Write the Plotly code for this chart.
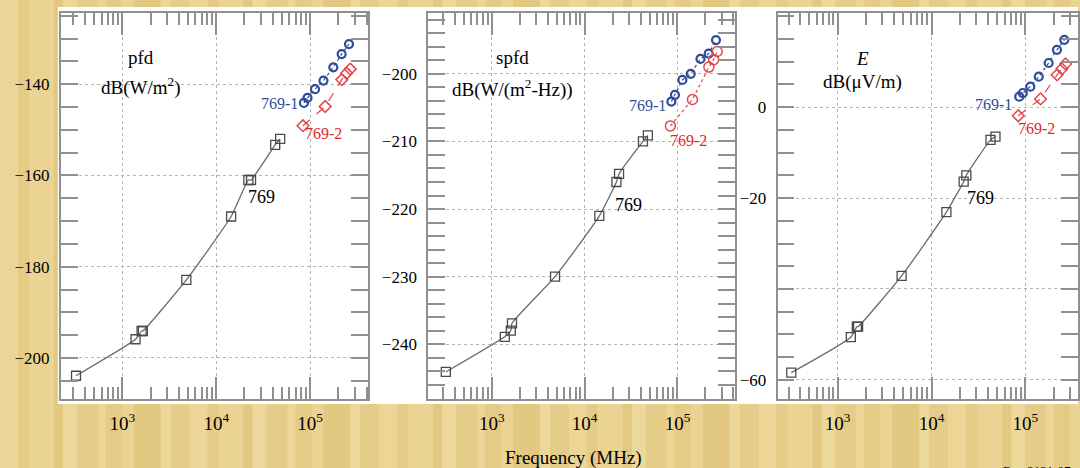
import plotly.graph_objects as go

# ---------------- data ----------------
freq_769 = [320, 1380, 1600, 1650, 4800, 14400, 22000, 23500, 42500, 48000]
freq_769_1 = [86000, 94000, 113000, 139000, 177000, 217000, 260000]
freq_769_2 = [84000, 145000, 218000, 245000, 268000]

pfd_769 = [-203.9, -195.9, -194.1, -194.1, -182.9, -169.0, -161.0, -161.0, -153.3, -152.0]
pfd_769_1 = [-144.1, -143.0, -141.1, -139.2, -136.3, -133.4, -131.2]
pfd_769_2 = [-149.1, -144.9, -139.0, -137.6, -136.7]

spfd_769 = [-244.1, -238.9, -238.0, -236.9, -230.0, -221.0, -216.0, -214.8, -210.0, -209.1]
spfd_769_1 = [-204.1, -203.1, -200.9, -200.0, -197.8, -197.0, -195.0]
spfd_769_2 = [-207.7, -203.8, -199.0, -197.9, -196.7]

e_769 = [-58.4, -50.6, -48.3, -48.3, -37.1, -23.1, -16.4, -15.0, -7.2, -6.5]
e_769_1 = [2.3, 3.1, 4.5, 6.7, 9.7, 12.6, 14.8]
e_769_2 = [-1.9, 1.8, 7.1, 8.4, 9.5]

x_major = [1e3, 1e4, 1e5]
x_major_text = ["10<sup>3</sup>", "10<sup>4</sup>", "10<sup>5</sup>"]
x_minor = [m * d for d in (100, 1000, 10000, 100000) for m in range(2, 10)]

panel_titles = [("pfd", "dB(W/m<sup>2</sup>)"),
                ("spfd", "dB(W/(m<sup>2</sup>-Hz))"),
                ("<i>E</i>", "dB(μV/m)")]

# ---------------- styling / layout ----------------
W, H = 1080, 468
SERIF = "Liberation Serif"
BLUE = "#2f4c9c"
RED = "#e3464a"
FRAME = "#909090"

def px_x(p):
    return p / W

def px_y(p):
    return (H - p) / H

panels = [
    dict(x0=61, x1=369, xr=[2.344, 5.621], yr=[-209.0, -124.4], dt=20, mdt=5),
    dict(x0=429, x1=736, xr=[2.315, 5.616], yr=[-248.1, -191.0], dt=10, mdt=2),
    dict(x0=779, x1=1080, xr=[2.359, 5.561], yr=[-64.2, 20.7], dt=20, mdt=5),
]
y_top, y_bot = 13, 399

series = [
    (pfd_769, pfd_769_1, pfd_769_2),
    (spfd_769, spfd_769_1, spfd_769_2),
    (e_769, e_769_1, e_769_2),
]

fig = go.Figure()

for i, (p, (s0, s1, s2)) in enumerate(zip(panels, series)):
    xa = "x" if i == 0 else f"x{i+1}"
    ya = "y" if i == 0 else f"y{i+1}"
    fig.add_trace(go.Scatter(
        x=freq_769, y=s0, xaxis=xa, yaxis=ya, mode="lines+markers",
        line=dict(color="#6a6a6a", width=1.3, shape="spline", smoothing=0.5),
        marker=dict(symbol="square-open", size=9, color="#4a4a4a", line=dict(width=1.3)),
        showlegend=False))
    fig.add_trace(go.Scatter(
        x=freq_769_1, y=s1, xaxis=xa, yaxis=ya, mode="lines+markers",
        line=dict(color=BLUE, width=1.2, dash="dot"),
        marker=dict(symbol="circle-open", size=8, color=BLUE, line=dict(width=2.2)),
        showlegend=False))
    fig.add_trace(go.Scatter(
        x=freq_769_2, y=s2, xaxis=xa, yaxis=ya, mode="lines+markers",
        line=dict(color=RED, width=1.2, dash="dot" if i == 1 else "dash"),
        marker=dict(symbol="circle-open" if i == 1 else "diamond-open",
                    size=10 if i == 1 else 9, color=RED, line=dict(width=1.5)),
        showlegend=False))

layout = dict(
    width=W, height=H,
    margin=dict(l=0, r=0, t=0, b=0),
    paper_bgcolor="#e9d18f",
    plot_bgcolor="rgba(0,0,0,0)",
    font=dict(family=SERIF, color="black", size=17),
    showlegend=False,
)

for i, p in enumerate(panels):
    xk = "xaxis" if i == 0 else f"xaxis{i+1}"
    yk = "yaxis" if i == 0 else f"yaxis{i+1}"
    ya = "y" if i == 0 else f"y{i+1}"
    xa = "x" if i == 0 else f"x{i+1}"
    layout[xk] = dict(
        type="log", range=p["xr"], domain=[px_x(p["x0"]), px_x(p["x1"])],
        anchor=ya, tickmode="array", tickvals=x_major, ticktext=x_major_text,
        ticks="inside", ticklen=22, tickwidth=2.2, tickcolor=FRAME,
        showline=True, linecolor=FRAME, linewidth=1.8, mirror="allticks",
        showgrid=True, gridcolor="#b4b4b4", griddash="dot", gridwidth=1,
        zeroline=False, tickfont=dict(size=19, family=SERIF),
        ticklabelstandoff=6,
        minor=dict(tickmode="array", tickvals=x_minor, ticks="inside", ticklen=12,
                   tickwidth=2.2, tickcolor=FRAME, showgrid=False),
    )
    yax = dict(
        range=p["yr"], domain=[px_y(y_bot), px_y(y_top)], anchor=xa,
        ticks="inside", ticklen=17, tickwidth=2.2, tickcolor=FRAME,
        showline=True, linecolor=FRAME, linewidth=1.8, mirror="allticks",
        showgrid=True, gridcolor="#b4b4b4", griddash="dot", gridwidth=1,
        zeroline=False, tickfont=dict(size=17, family=SERIF),
        ticklabelstandoff=6,
        minor=dict(tick0=0, dtick=p["mdt"], ticks="inside", ticklen=17,
                   tickwidth=2.2, tickcolor=FRAME, showgrid=False),
    )
    if i == 2:
        yax.update(tickmode="array", tickvals=[-60, -40, -20, 0],
                   ticktext=["−60", " ", "−20", "0"])
    else:
        yax.update(tick0=0, dtick=p["dt"])
    layout[yk] = yax

fig.update_layout(**layout)

# background texture stripes (decoration) + white sheet
stripe_cols = ["#f1dea6", "#dfc27a", "#eed89c", "#dbbb6f", "#f4e4b4", "#e2c682"]
shapes = []
xpos = 0
k = 0
widths = [18, 11, 25, 9, 14, 21, 8, 16, 12, 27, 10, 19]
while xpos < W:
    w = widths[k % len(widths)]
    shapes.append(dict(type="rect", xref="paper", yref="paper",
                       x0=xpos / W, x1=(xpos + w) / W, y0=0, y1=1,
                       fillcolor=stripe_cols[k % len(stripe_cols)], opacity=0.38,
                       line=dict(width=0), layer="below"))
    xpos += w
    k += 1
shapes.append(dict(type="rect", xref="paper", yref="paper",
                   x0=px_x(58), x1=1.0, y0=px_y(404), y1=px_y(7),
                   fillcolor="white", line=dict(width=0), layer="below"))
fig.update_layout(shapes=shapes)

# annotations
ann_pos = [
    dict(t=(3.195, -134.2), u=(3.195, -140.6), n=(4.482, -164.7), b=(4.674, -144.3), r=(5.142, -150.9)),
    dict(t=(3.218, -197.6), u=(3.218, -202.1), n=(4.476, -219.4), b=(4.682, -204.7), r=(5.121, -209.8)),
    dict(t=(3.263, 10.8), u=(3.263, 5.6), n=(4.518, -20.0), b=(4.657, 0.5), r=(5.124, -4.8)),
]
anns = []
for i, (a, (t1, t2)) in enumerate(zip(ann_pos, panel_titles)):
    xa = "x" if i == 0 else f"x{i+1}"
    ya = "y" if i == 0 else f"y{i+1}"
    common = dict(xref=xa, yref=ya, showarrow=False, xanchor="center", yanchor="middle")
    anns.append(dict(text=t1, x=a["t"][0], y=a["t"][1], font=dict(size=19, family=SERIF, color="black"), **common))
    anns.append(dict(text=t2, x=a["u"][0], y=a["u"][1], font=dict(size=19, family=SERIF, color="black"), **common))
    anns.append(dict(text="769", x=a["n"][0], y=a["n"][1], font=dict(size=18, family=SERIF, color="black"), **common))
    anns.append(dict(text="769-1", x=a["b"][0], y=a["b"][1], font=dict(size=16, family=SERIF, color=BLUE), **common))
    anns.append(dict(text="769-2", x=a["r"][0], y=a["r"][1], font=dict(size=16, family=SERIF, color="#e02828"), **common))

anns.append(dict(text="Frequency (MHz)", xref="paper", yref="paper", x=px_x(575), y=px_y(458),
                 showarrow=False, xanchor="center", yanchor="middle",
                 font=dict(size=19, family=SERIF, color="black")))
anns.append(dict(text="Rap 2131-07", xref="paper", yref="paper", x=px_x(1003), y=px_y(470),
                 showarrow=False, xanchor="left", yanchor="middle",
                 font=dict(size=13, family=SERIF, color="black")))
fig.update_layout(annotations=anns)

fig.write_html("out.html", config={"displayModeBar": False},
               post_script="document.body.style.margin='0';document.body.style.overflow='hidden';")
